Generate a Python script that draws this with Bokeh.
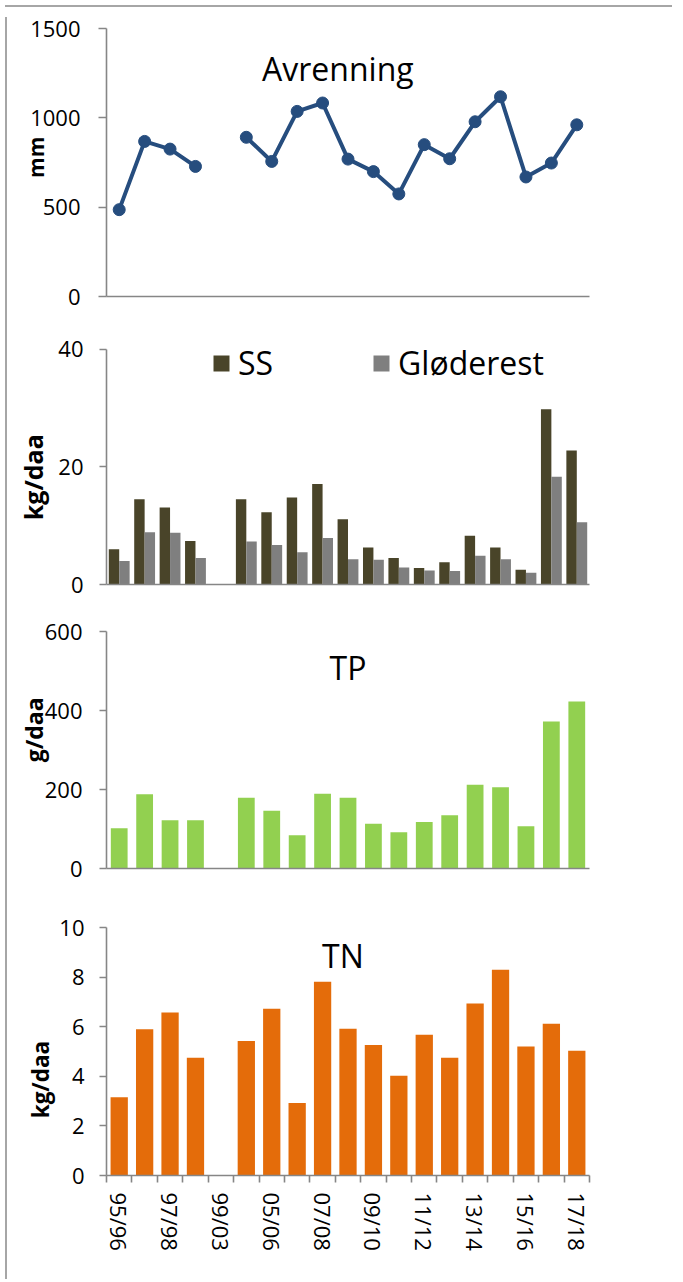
import math
import numpy as np
from bokeh.plotting import figure
from bokeh.layouts import column, row
from bokeh.models import (Range1d, FixedTicker, Label, ColumnDataSource,
                          LinearAxis, Div)
from bokeh.transform import dodge
from bokeh.embed import file_html
from bokeh.resources import INLINE

# ---------------- data ----------------
seasons = ["95/96", "96/97", "97/98", "98/99", "99/03", "04/05", "05/06", "06/07",
           "07/08", "08/09", "09/10", "10/11", "11/12", "12/13", "13/14", "14/15",
           "15/16", "16/17", "17/18"]
avrenning = [486, 868, 825, 728, None, 891, 756, 1036, 1083, 769, 699, 574, 850,
             771, 978, 1118, 669, 747, 961]
ss = [6.0, 14.5, 13.1, 7.4, None, 14.5, 12.3, 14.8, 17.1, 11.1, 6.3, 4.5, 2.8,
      3.8, 8.3, 6.3, 2.5, 29.8, 22.8]
glod = [4.0, 8.9, 8.8, 4.5, None, 7.3, 6.7, 5.5, 7.9, 4.3, 4.2, 2.9, 2.4, 2.3,
        4.9, 4.3, 2.0, 18.3, 10.6]
tp = [102, 188, 122, 122, None, 179, 146, 84, 189, 179, 113, 92, 118, 135, 212,
      206, 107, 372, 423]
tn = [3.16, 5.9, 6.57, 4.75, None, 5.42, 6.72, 2.92, 7.81, 5.92, 5.26, 4.02,
      5.68, 4.75, 6.94, 8.3, 5.2, 6.12, 5.03]

yticks_avr = [0, 500, 1000, 1500]
yticks_ss = [0, 20, 40]
yticks_tp = [0, 200, 400, 600]
yticks_tn = [0, 2, 4, 6, 8, 10]

idx = list(range(len(seasons)))
src = ColumnDataSource(dict(
    x=idx, season=seasons,
    avr=np.array(avrenning, dtype=float),
    ss=np.array(ss, dtype=float),
    glod=np.array(glod, dtype=float),
    tp=np.array(tp, dtype=float),
    tn=np.array(tn, dtype=float),
))

# ---------------- style ----------------
FONT = "Open Sans"
AX = "#868686"
BORDER = "#a6a6a6"
BLUE = "#264D7E"
SS_C = "#494429"
GL_C = "#7F7F7F"
TP_C = "#92D050"
TN_C = "#E46C0A"
W = 620
N = len(seasons)
EM, EN, QU = "\u2003", "\u2002", "\u2005"   # spacing used to shift axis titles


def make_fig(h, left, top, bottom, frame_w, ymax, yticks, ybounds, tick_out, standoff):
    p = figure(width=W, height=h,
               x_range=Range1d(-0.5, N - 0.5), y_range=Range1d(0, ymax),
               min_border_left=left, min_border_right=W - left - frame_w,
               min_border_top=top, min_border_bottom=bottom,
               output_backend="svg", toolbar_location=None)
    p.xgrid.visible = False
    p.ygrid.visible = False
    p.outline_line_color = None
    p.background_fill_color = "white"
    p.border_fill_color = "white"
    p.yaxis.ticker = FixedTicker(ticks=yticks)
    p.yaxis.bounds = ybounds
    p.xaxis.ticker = FixedTicker(ticks=[])
    for ax in p.axis:
        ax.axis_line_color = AX
        ax.axis_line_width = 1.6
        ax.major_tick_line_color = AX
        ax.major_tick_line_width = 1.6
        ax.minor_tick_line_color = AX
        ax.minor_tick_line_width = 1.6
        ax.major_label_text_font = FONT
        ax.major_label_text_font_size = "22px"
        ax.major_label_text_color = "black"
        ax.major_tick_in = 0
        ax.minor_tick_in = 0
        ax.minor_tick_out = 0
    p.yaxis.major_tick_out = tick_out
    p.yaxis.major_label_standoff = standoff
    p.xaxis.major_tick_out = 0
    return p


def ylabel(p, text, standoff, size):
    # label-only axis placed just outside the tick labels
    ax = LinearAxis(axis_label=text,
                    ticker=FixedTicker(ticks=[]), axis_line_alpha=0,
                    major_tick_out=0, major_tick_in=0, minor_tick_out=0,
                    minor_tick_in=0, major_label_standoff=0,
                    axis_label_standoff=standoff,
                    axis_label_text_font=FONT,
                    axis_label_text_font_style="bold",
                    axis_label_text_font_size=size,
                    axis_label_text_color="black")
    p.add_layout(ax, "left")


def title(p, text, x, y):
    p.add_layout(Label(x=x, y=y, text=text, text_align="center",
                       text_baseline="alphabetic", text_font=FONT,
                       text_font_size="32px", text_color="black"))


# ---- Panel 1: Avrenning ----
p1 = make_fig(310, 93, 16, 26, 488, 1500, yticks_avr, (0, 1500), 8, 18)
p1.line("x", "avr", source=src, line_color=BLUE, line_width=4)
p1.scatter("x", "avr", source=src, size=12, fill_color=BLUE, line_color=BLUE)
title(p1, "Avrenning", 8.6, 1278)
ylabel(p1, EN + "mm", -22, "21px")

# ---- Panel 2: SS / Gløderest ----
p2 = make_fig(290, 93, 10, 28, 488, 42.84, yticks_ss, (0, 40), 7, 16)
p2.vbar(x=dodge("x", -0.205), top="ss", width=0.41, source=src,
        fill_color=SS_C, line_color=None, legend_label="SS")
p2.vbar(x=dodge("x", 0.205), top="glod", width=0.41, source=src,
        fill_color=GL_C, line_color=None, legend_label="Gløderest")
leg = p2.legend[0]
leg.location = (105, 200)
leg.orientation = "horizontal"
leg.spacing = 98
leg.glyph_width = 20
leg.glyph_height = 20
leg.label_standoff = 7
leg.padding = 0
leg.margin = 0
leg.border_line_color = None
leg.background_fill_alpha = 0
leg.label_text_font = FONT
leg.label_text_font_size = "32px"
leg.label_text_color = "black"
ylabel(p2, "kg/daa" + EM + EN, 6, "25px")

# ---- Panel 3: TP ----
p3 = make_fig(290, 91, 19, 34, 488, 600, yticks_tp, (0, 600), 7, 17)
p3.vbar(x="x", top="tp", width=0.66, source=src, fill_color=TP_C, line_color=None)
title(p3, "TP", 9.0, 509)
ylabel(p3, EM + EN + QU + "g/daa", -8, "23px")

# ---- Panel 4: TN ----
p4 = make_fig(372, 87, 25, 99, 490, 10, yticks_tn, (0, 10), 7, 15)
p4.vbar(x="x", top="tn", width=0.68, source=src, fill_color=TN_C, line_color=None)
title(p4, "TN", 8.8, 8.86)
ylabel(p4, "kg/daa" + EM + EM + EN, 1, "22.5px")
p4.xaxis.ticker = FixedTicker(ticks=idx[::2],
                              minor_ticks=[i - 0.5 for i in range(N + 1)])
p4.xaxis.major_label_overrides = {i: seasons[i] for i in idx[::2]}
p4.xaxis.major_label_orientation = "vertical"
p4.xaxis.major_tick_out = 0
p4.xaxis.minor_tick_out = 7
p4.xaxis.major_label_standoff = 10

top_line = Div(width=667, height=2, styles={"background-color": BORDER})
left_line = Div(width=2, height=1262, styles={"background-color": BORDER})
layout = column(top_line, row(left_line, column(p1, p2, p3, p4, spacing=0), spacing=0),
                spacing=0)

open("out.html", "w").write(file_html(layout, INLINE))
